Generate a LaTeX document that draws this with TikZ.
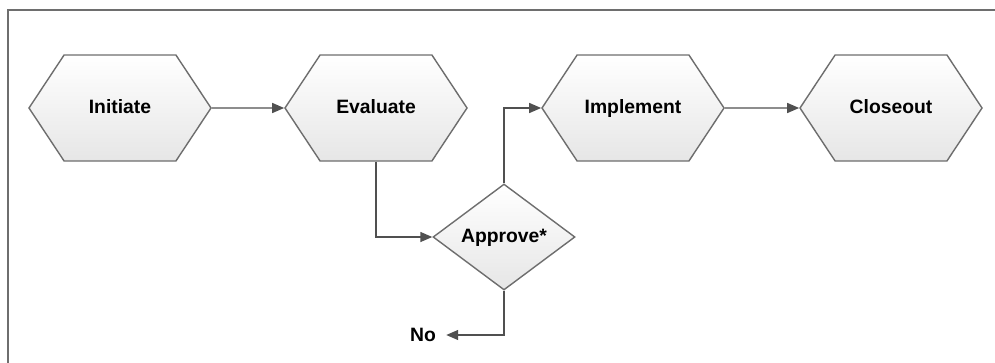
\documentclass[tikz,border=0pt]{standalone}
\usepackage{fontspec}
\setmainfont{Liberation Sans}
\usepackage{tikz}
\usetikzlibrary{arrows.meta,shapes.geometric,shapes.symbols,positioning}
\definecolor{edgegray}{HTML}{6E6E6E}
\definecolor{linegray}{HTML}{505050}
\definecolor{fillgray}{HTML}{E6E6E6}

\begin{document}
\begin{tikzpicture}[
  phase/.style={signal,signal to=east and west,signal pointer angle=113,
    minimum width=3.64cm,minimum height=2.12cm,inner sep=0pt,
    text height=1.6ex,text depth=0.4ex,
    draw=edgegray,thick,top color=white,bottom color=fillgray,
    font=\fontsize{11}{13}\selectfont\bfseries},
  decide/.style={diamond,aspect=1.34,minimum width=2.84cm,minimum height=2.12cm,
    inner sep=0pt,text height=1.6ex,text depth=0.4ex,
    draw=edgegray,thick,top color=white,bottom color=fillgray,
    font=\fontsize{11}{13}\selectfont\bfseries},
  flow/.style={linegray,thick,-{Triangle[length=2.4mm,width=2mm]}}]
  \useasboundingbox (0,0) rectangle (19.9,7.24);
  \draw[edgegray,line width=1.2pt] (0.16,-1) rectangle (21,7.04);
  \node[phase] (init) at (2.40,5.08) {Initiate};
  \node[phase] (eval) at (7.52,5.08) {Evaluate};
  \node[phase] (impl) at (12.66,5.08) {Implement};
  \node[phase] (close) at (17.82,5.08) {Closeout};
  \node[decide] (appr) at (10.08,2.50) {Approve*};
  \node[font=\fontsize{11}{13}\selectfont\bfseries,inner sep=0.2cm] (no) at (8.46,0.54) {No};
  \draw[flow] (init) -- (eval);
  \draw[flow] (eval.south) |- (appr.west);
  \draw[flow] (appr.north) |- (impl.west);
  \draw[flow] (impl) -- (close);
  \draw[flow] (appr.south) |- (no.east);
\end{tikzpicture}
\end{document}
